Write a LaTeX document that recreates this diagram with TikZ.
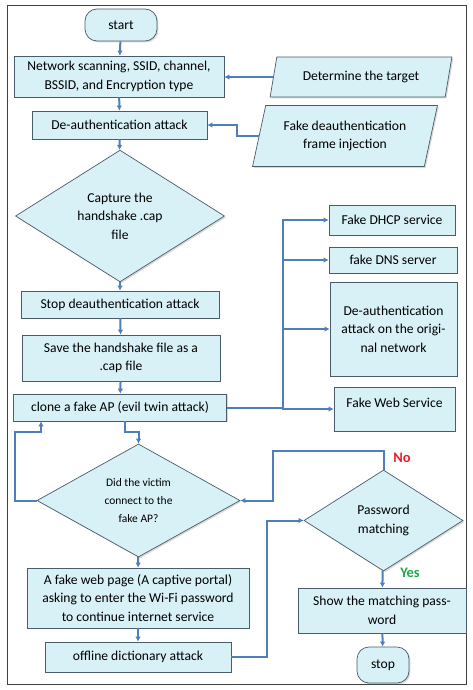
\documentclass[tikz,border=0pt]{standalone}
\usepackage{fontspec}
\setmainfont{Carlito}
\usetikzlibrary{shapes.geometric, arrows.meta, shadows}

\definecolor{boxfill}{HTML}{D8F1F7}
\definecolor{boxline}{HTML}{4A5B6A}
\definecolor{flowblue}{HTML}{4F7EBD}
\definecolor{nored}{HTML}{E61E2B}
\definecolor{yesgreen}{HTML}{1FA64F}

\begin{document}
\begin{tikzpicture}[
    x=1pt, y=1pt,
    font=\fontsize{13.6}{18.5}\selectfont,
    base/.style={draw=boxline, fill=boxfill, line width=0.7pt, align=center, inner sep=2pt,
        drop shadow={shadow xshift=1.4pt, shadow yshift=-1.4pt, opacity=0.3}},
    box/.style={base, rectangle},
    term/.style={base, rectangle, rounded corners=12pt},
    io/.style={base, trapezium, trapezium left angle=73, trapezium right angle=107, trapezium stretches=true},
    decision/.style={base, diamond, inner sep=0pt},
    arrow/.style={-{Latex[length=5pt, width=5.5pt]}, flowblue, line width=2pt},
    link/.style={flowblue, line width=2pt}
]
\useasboundingbox (0,0) rectangle (473,-690);
\draw[black!75, thin] (7,-5) rectangle (466,-684);

% Main column
\node[term, minimum width=72pt, minimum height=32pt] (start) at (121,-25) {start};
\node[box, minimum width=210pt, minimum height=41pt] (scan) at (119,-76.5) {Network scanning, SSID, channel,\\BSSID, and Encryption type};
\node[box, minimum width=175pt, minimum height=28pt] (deauth) at (119.5,-125) {De-authentication attack};
\node[decision, minimum width=209pt, minimum height=118pt] (capture) at (120,-216) {Capture the\\handshake .cap\\file};
\node[box, minimum width=198pt, minimum height=27pt] (stopatk) at (120,-304.5) {Stop deauthentication attack};
\node[box, minimum width=198pt, minimum height=46pt] (save) at (121,-358) {Save the handshake file as a\\.cap file};
\node[box, minimum width=213pt, minimum height=27pt] (clone) at (120,-407.5) {clone a fake AP (evil twin attack)};
\node[decision, font=\fontsize{11.5}{18}\selectfont, minimum width=203pt, minimum height=113pt] (victim) at (138.5,-500.5) {Did the victim\\connect to the\\fake AP?};
\node[box, minimum width=222pt, minimum height=60pt] (page) at (138,-598) {A fake web page (A captive portal)\\asking to enter the Wi-Fi password\\to continue internet service};
\node[box, minimum width=186pt, minimum height=30pt] (offline) at (138,-657) {offline dictionary attack};

% Inputs
\node[io, minimum width=182pt, minimum height=40pt] (target) at (361,-77) {Determine the target};
\node[io, minimum width=185pt, minimum height=61pt] (inject) at (345,-136) {Fake deauthentication\\frame injection};

% Evil twin services
\node[box, minimum width=126pt, minimum height=30pt] (dhcp) at (392,-220) {Fake DHCP service};
\node[box, minimum width=128pt, minimum height=26pt] (dns) at (393,-260) {fake DNS server};
\node[box, minimum width=127pt, minimum height=94pt] (orig) at (393.5,-329) {De-authentication\\attack on the origi-\\nal network};
\node[box, minimum width=121pt, minimum height=44pt, text depth=12pt] (web) at (394.5,-409) {Fake Web Service};

% Password check
\node[decision, minimum width=159pt, minimum height=101pt] (pass) at (383.5,-520.5) {Password\\matching};
\node[box, minimum width=168pt, minimum height=45pt] (show) at (382,-610.5) {Show the matching pass-\\word};
\node[term, minimum width=52pt, minimum height=36pt] (stop) at (383,-665) {stop};

% Arrows
\draw[arrow] (start) -- (scan);
\draw[arrow] (scan) -- (deauth);
\draw[arrow] (target.west) -- (target.west -| scan.east);
\draw[arrow] (inject.west) -- ++(-22,0) |- (deauth.east);
\draw[arrow] (deauth) -- (capture);
\draw[arrow] (capture) -- (stopatk);
\draw[arrow] (stopatk) -- (save);
\draw[arrow] (save) -- (clone);

\coordinate (bus) at (283,-407.5);
\draw[link] (clone.east) -- (bus);
\draw[arrow] (bus) |- (dhcp.west);
\draw[arrow] (bus) |- (dns.west);
\draw[arrow] (bus) |- (orig.west);
\draw[arrow] (bus) |- (web.west);

\draw[arrow] ([xshift=5pt]clone.south) -- ++(0,-11) -| (victim.north);
\coordinate (loopL) at (15,-432);
\draw[arrow] (victim.west) -| (loopL) -| ([xshift=-79pt]clone.south);

\coordinate (noR) at (273,-451);
\draw[arrow] (pass.north) |- (noR) |- (victim.east);
\node[font=\fontsize{14.5}{16}\selectfont\bfseries, text=nored] (no) at (402,-458) {No};

\draw[arrow] (victim) -- (page);
\draw[arrow] (page) -- (offline);
\draw[arrow] (offline.east) -- ++(36,0) |- (pass.west);
\draw[arrow] (pass) -- (show);
\node[font=\fontsize{14.5}{16}\selectfont\bfseries, text=yesgreen] (yes) at (410,-573) {Yes};
\draw[arrow] (show) -- (stop);
\end{tikzpicture}
\end{document}
